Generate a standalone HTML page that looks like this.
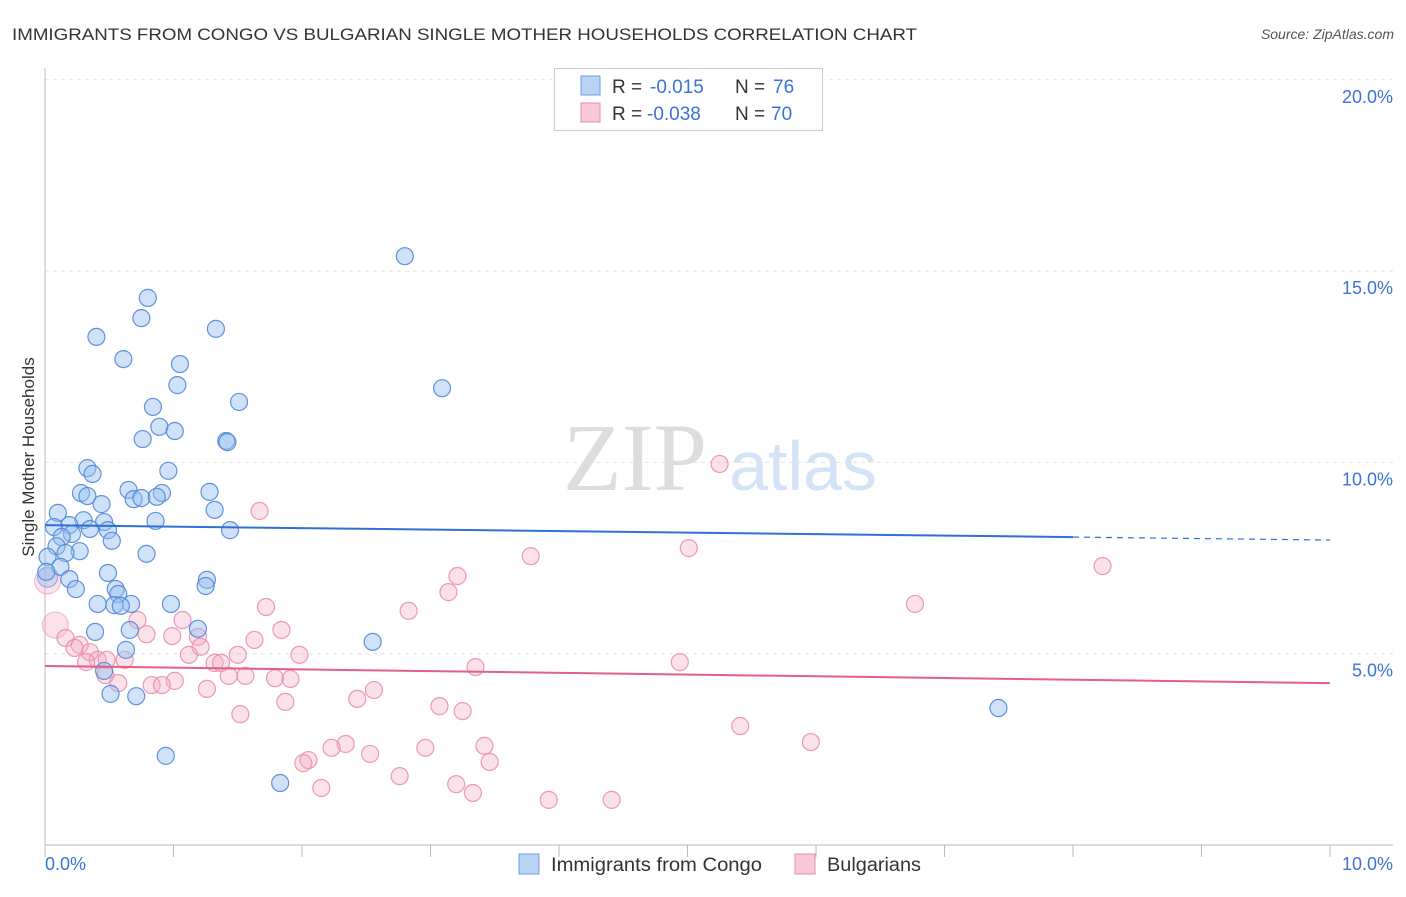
<!DOCTYPE html>
<html><head><meta charset="utf-8"><style>
body{margin:0;background:#fff;font-family:"Liberation Sans",sans-serif;}
</style></head><body>
<svg id="chart" width="1406" height="892" xmlns="http://www.w3.org/2000/svg" style="font-family:'Liberation Sans',sans-serif">
<text x="12" y="40" font-size="17" fill="#333" textLength="905" lengthAdjust="spacingAndGlyphs">IMMIGRANTS FROM CONGO VS BULGARIAN SINGLE MOTHER HOUSEHOLDS CORRELATION CHART</text>
<text x="1394" y="39" font-size="14" fill="#555" text-anchor="end" font-style="italic">Source: ZipAtlas.com</text>
<g>
<text x="635" y="490" font-size="96" fill="#ddd" text-anchor="middle" font-family="Liberation Serif,serif">ZIP</text>
<text x="803" y="490" font-size="70" fill="#d4e3f5" text-anchor="middle">atlas</text>
</g>
<g id="grid"></g><g id="axes"></g><g id="pink"></g><g id="blue"></g><g id="trends"></g>
<text transform="translate(34,457) rotate(-90)" font-size="17" fill="#333" text-anchor="middle">Single Mother Households</text>
<g>
<rect x="554.5" y="68.5" width="268" height="62" fill="#fff" stroke="#ccc"/>
<rect x="581" y="76" width="19" height="19" fill="#b8d3f3" stroke="#6a9fe0"/>
<rect x="581" y="103" width="19" height="19" fill="#f9c9d7" stroke="#e98aa8"/>
<text x="612" y="93" font-size="19" fill="#333">R =</text>
<text x="650" y="93" font-size="19" fill="#3a72d8">-0.015</text>
<text x="735" y="93" font-size="19" fill="#333">N =</text>
<text x="773" y="93" font-size="19" fill="#3a72d8">76</text>
<text x="612" y="120" font-size="19" fill="#333">R =</text>
<text x="647" y="120" font-size="19" fill="#3a72d8">-0.038</text>
<text x="735" y="120" font-size="19" fill="#333">N =</text>
<text x="771" y="120" font-size="19" fill="#3a72d8">70</text>
</g>
<g>
<rect x="519" y="854" width="20" height="20" fill="#b8d3f3" stroke="#6a9fe0"/>
<text x="551" y="871" font-size="19" fill="#333" textLength="211" lengthAdjust="spacingAndGlyphs">Immigrants from Congo</text>
<rect x="795" y="854" width="20" height="20" fill="#f9c9d7" stroke="#e98aa8"/>
<text x="827" y="871" font-size="19" fill="#333" textLength="94" lengthAdjust="spacingAndGlyphs">Bulgarians</text>
</g>
</svg>
<script>
const xTicks=[0,1,2,3,4,5,6,7,8,9,10];
const yTicks=[5,10,15,20];
const blueX=[2.80,0.80,0.75,1.33,0.40,0.61,1.05,1.03,3.09,1.51,0.84,0.89,1.01,0.76,1.41,1.42,0.33,0.96,0.37,0.65,0.28,1.28,0.33,0.91,0.69,0.75,0.87,0.44,1.32,0.10,0.86,0.30,0.19,0.07,0.46,1.44,0.35,0.49,0.21,0.13,0.52,0.09,0.27,0.16,0.79,0.02,0.12,0.01,0.49,1.26,0.19,1.25,0.24,0.55,0.57,0.41,0.67,0.98,0.54,0.59,0.39,1.19,0.66,2.55,0.63,0.46,0.51,0.71,7.42,0.94,1.83];
const blueY=[15.39,14.30,13.77,13.49,13.28,12.70,12.57,12.02,11.94,11.58,11.45,10.93,10.82,10.61,10.56,10.53,9.85,9.78,9.70,9.28,9.20,9.23,9.12,9.20,9.04,9.07,9.10,8.91,8.76,8.68,8.47,8.49,8.36,8.31,8.44,8.23,8.26,8.23,8.13,8.05,7.95,7.81,7.68,7.63,7.61,7.53,7.27,7.14,7.11,6.93,6.95,6.77,6.69,6.69,6.56,6.30,6.30,6.30,6.27,6.25,5.57,5.65,5.62,5.31,5.10,4.55,3.95,3.89,3.58,2.33,1.62];
const pinkX=[1.67,5.25,5.01,3.78,8.23,3.21,3.14,6.77,2.83,1.72,0.72,1.07,1.84,0.79,0.99,1.19,0.16,0.27,0.23,1.21,0.35,1.63,1.50,1.98,1.12,0.41,0.62,0.32,0.48,1.32,1.37,4.94,3.35,0.47,1.43,1.56,1.79,1.91,0.57,1.01,0.83,0.91,1.26,2.56,2.43,1.87,3.07,3.25,1.52,5.41,5.96,2.34,2.23,3.42,2.96,2.53,2.05,2.01,3.46,2.76,3.20,2.15,3.33,3.92,4.41];
const pinkY=[8.73,9.96,7.76,7.55,7.29,7.03,6.61,6.30,6.12,6.22,5.88,5.88,5.62,5.51,5.46,5.44,5.41,5.23,5.15,5.18,5.04,5.36,4.97,4.97,4.97,4.84,4.84,4.78,4.84,4.76,4.76,4.78,4.65,4.44,4.42,4.42,4.36,4.34,4.23,4.29,4.18,4.18,4.08,4.05,3.82,3.74,3.63,3.50,3.42,3.11,2.69,2.64,2.54,2.59,2.54,2.38,2.22,2.14,2.17,1.80,1.59,1.49,1.36,1.18,1.18];
const bigBlue=[[0.02,7.0]];
const bigPink=[[0.02,6.9],[0.08,5.75]];
const blueTrend=[8.36,7.97];
const pinkTrend=[4.68,4.23];
const NS="http://www.w3.org/2000/svg";
const X=v=>45+v*128.5, Y=v=>845-v*38.26;
function mk(p,t,a){const e=document.createElementNS(NS,t);for(const k in a)e.setAttribute(k,a[k]);p.appendChild(e);return e;}
const grid=document.getElementById('grid'),axes=document.getElementById('axes');
yTicks.forEach(t=>{
 const l=mk(grid,'line',{x1:45,x2:1393,y1:Y(t),y2:Y(t),stroke:'#e2e2e2','stroke-dasharray':'4,4'});
 
 
 const tx=mk(grid,'text',{x:1393,y:Y(t)+23,'font-size':18,fill:'#3a72d8','text-anchor':'end'});
 tx.textContent=t.toFixed(1)+'%';
 
 
});
mk(axes,'line',{x1:45,x2:45,y1:68,y2:845,stroke:'#bbb'});
mk(axes,'line',{x1:45,x2:1393,y1:845,y2:845,stroke:'#bbb'});
xTicks.forEach(t=>{
 const l=mk(axes,'line',{x1:X(t),x2:X(t),y1:845,y2:857,stroke:'#bbb'});
 
 
});
[[0,'start',45],[10,'end',1393]].forEach(([t,a,x])=>{
 const tx=mk(axes,'text',{x:x,y:870,'font-size':18,fill:'#3a72d8','text-anchor':a});
 tx.textContent=t.toFixed(1)+'%';
 
 
});
function pts(g,xs,ys,fill,stroke,name){
 for(let i=0;i<xs.length;i++){
  const c=mk(g,'circle',{cx:X(xs[i]),cy:Y(ys[i]),r:8.5,fill:fill,stroke:stroke,'stroke-width':1.2});
  
  
 }
}
const pg=document.getElementById('pink'),bg=document.getElementById('blue');
bigPink.forEach(p=>{const c=mk(pg,'circle',{cx:X(p[0]),cy:Y(p[1]),r:13,fill:'rgba(244,170,195,0.35)',stroke:'rgba(233,138,168,0.6)'});});
bigBlue.forEach(p=>{const c=mk(bg,'circle',{cx:X(p[0]),cy:Y(p[1]),r:10,fill:'rgba(150,190,240,0.4)',stroke:'rgba(90,145,220,0.7)'});});
pts(pg,pinkX,pinkY,'rgba(244,170,195,0.35)','rgba(233,138,168,0.85)','bulgarians-point');
pts(bg,blueX,blueY,'rgba(150,190,240,0.45)','rgba(80,135,215,0.9)','congo-point');
const tg=document.getElementById('trends');
const bAt=x=>blueTrend[0]+(blueTrend[1]-blueTrend[0])*x/10;
let l=mk(tg,'line',{x1:X(0),y1:Y(bAt(0)),x2:X(8),y2:Y(bAt(8)),stroke:'#2f6fd6','stroke-width':2});


l=mk(tg,'line',{x1:X(8),y1:Y(bAt(8)),x2:X(10),y2:Y(bAt(10)),stroke:'#2f6fd6','stroke-width':1.2,'stroke-dasharray':'6,5'});


l=mk(tg,'line',{x1:X(0),y1:Y(pinkTrend[0]),x2:X(10),y2:Y(pinkTrend[1]),stroke:'#e0608a','stroke-width':2});


</script>
</body></html>
